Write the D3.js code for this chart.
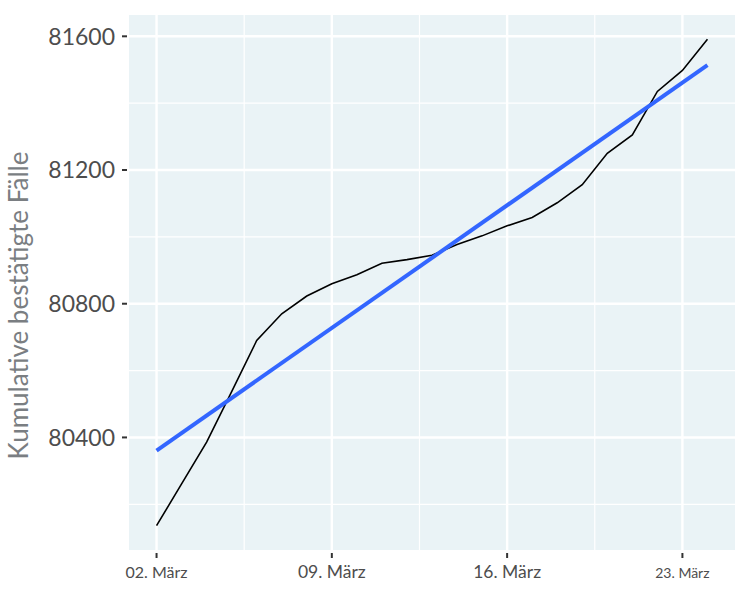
<!DOCTYPE html>
<html><head><meta charset="utf-8">
<script src="https://cdn.jsdelivr.net/npm/d3@7"></script>
<style>body{margin:0;background:#fff}</style>
</head><body>
<svg id="c" width="750" height="600"></svg>
<script>
const dates = ["2020-03-02","2020-03-03","2020-03-04","2020-03-05","2020-03-06","2020-03-07","2020-03-08","2020-03-09","2020-03-10","2020-03-11","2020-03-12","2020-03-13","2020-03-14","2020-03-15","2020-03-16","2020-03-17","2020-03-18","2020-03-19","2020-03-20","2020-03-21","2020-03-22","2020-03-23","2020-03-24"];
const cases = [80136,80261,80386,80537,80690,80770,80823,80860,80887,80921,80932,80945,80977,81003,81033,81058,81102,81156,81250,81305,81435,81498,81591];
const yTicks = [80400,80800,81200,81600];
const xTickDates = ["2020-03-02","2020-03-09","2020-03-16","2020-03-23"];
const xTickLabels = ["02. März","09. März","16. März","23. März"];
const xTickSizes = [16,17.5,17.5,14];
const yTitle = "Kumulative bestätigte Fälle";

const parse = d3.utcParse("%Y-%m-%d");
const data = dates.map((d,i)=>({x:parse(d), y:cases[i]}));
const svg = d3.select("#c");
const L=129,R=735,T=15,B=550;

const x0 = data[0].x, x1 = data[data.length-1].x;
const span = x1 - x0;
const x = d3.scaleUtc().domain([new Date(+x0 - span*0.05), new Date(+x1 + span*0.05)]).range([L,R]);
const yExt = d3.extent(cases), ys = yExt[1]-yExt[0];
const y = d3.scaleLinear().domain([yExt[0]-ys*0.05, yExt[1]+ys*0.05]).range([B,T]);

svg.append("rect").attr("x",L).attr("y",T).attr("width",R-L).attr("height",B-T).attr("fill","#EAF3F6");

// minor grid
const yMinor = [80200,80600,81000,81400];
const xMinorDates = ["2020-03-05T12:00:00Z","2020-03-12T12:00:00Z","2020-03-19T12:00:00Z"].map(d=>new Date(d));
svg.append("g").selectAll("line").data(yMinor).join("line")
  .attr("x1",L).attr("x2",R).attr("y1",d=>y(d)).attr("y2",d=>y(d)).attr("stroke","#fff").attr("stroke-width",1.2);
svg.append("g").selectAll("line").data(xMinorDates).join("line")
  .attr("y1",T).attr("y2",B).attr("x1",d=>x(d)).attr("x2",d=>x(d)).attr("stroke","#fff").attr("stroke-width",1.2);
// major grid
svg.append("g").selectAll("line").data(yTicks).join("line")
  .attr("x1",L).attr("x2",R).attr("y1",d=>y(d)).attr("y2",d=>y(d)).attr("stroke","#fff").attr("stroke-width",2.4);
svg.append("g").selectAll("line").data(xTickDates).join("line")
  .attr("y1",T).attr("y2",B).attr("x1",d=>x(parse(d))).attr("x2",d=>x(parse(d))).attr("stroke","#fff").attr("stroke-width",2.4);

// data line
svg.append("path").datum(data).attr("fill","none").attr("stroke","#000").attr("stroke-width",1.6)
  .attr("d", d3.line().x(d=>x(d.x)).y(d=>y(d.y)));

// linear regression
const n = data.length;
const xs = data.map(d=>(d.x - x0)/864e5);
const mx = d3.mean(xs), my = d3.mean(cases);
const slope = d3.sum(xs.map((v,i)=>(v-mx)*(cases[i]-my))) / d3.sum(xs.map(v=>(v-mx)*(v-mx)));
const icpt = my - slope*mx;
const fit = [{x:x0, y:icpt}, {x:x1, y:icpt + slope*xs[n-1]}];
svg.append("path").datum(fit).attr("fill","none").attr("stroke","#3366FF").attr("stroke-width",4)
  .attr("d", d3.line().x(d=>x(d.x)).y(d=>y(d.y)));

// y axis
const gy = svg.append("g");
gy.selectAll("line").data(yTicks).join("line")
  .attr("x1",L-7).attr("x2",L-2).attr("y1",d=>y(d)).attr("y2",d=>y(d)).attr("stroke","#333").attr("stroke-width",2);
gy.selectAll("text").data(yTicks).join("text")
  .attr("x",L-14).attr("y",d=>y(d)).attr("dy","0.36em").attr("text-anchor","end")
  .attr("font-family","Lato").attr("font-size",23).attr("fill","#4d4d4d").text(d=>d);

// x axis
const gx = svg.append("g");
gx.selectAll("line").data(xTickDates).join("line")
  .attr("x1",d=>x(parse(d))).attr("x2",d=>x(parse(d))).attr("y1",B+3).attr("y2",B+8).attr("stroke","#333").attr("stroke-width",2);
gx.selectAll("text").data(xTickDates).join("text")
  .attr("x",d=>x(parse(d))).attr("y",578).attr("text-anchor","middle")
  .attr("font-family","Lato").attr("font-size",(d,i)=>xTickSizes[i]).attr("fill","#4d4d4d").text((d,i)=>xTickLabels[i]);

// y title
svg.append("text").attr("transform",`translate(28,${(T+B)/2 + 23}) rotate(-90)`).attr("text-anchor","middle")
  .attr("font-family","Lato").attr("font-size",26).attr("fill","#7a7e82").text(yTitle);
</script>
</body></html>
